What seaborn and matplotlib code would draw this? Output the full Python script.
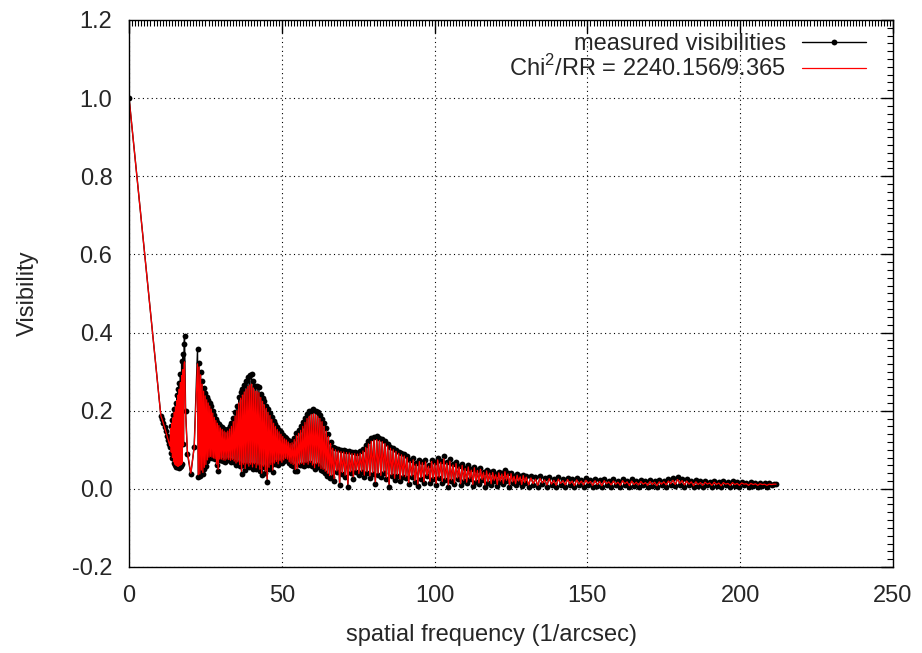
import matplotlib
matplotlib.use("Agg")
import matplotlib.pyplot as plt
from matplotlib.ticker import MultipleLocator, FormatStrFormatter
import numpy as np
import pandas as pd
import seaborn as sns

# values, segment by segment
freq_intro = [0.0, 10.4, 10.8, 11.2, 11.6, 12.0, 12.4, 12.8, 13.2]
vis_intro = [1.000, 0.187, 0.178, 0.168, 0.158, 0.147, 0.136, 0.125, 0.114]
model_intro = [1.000, 0.187, 0.178, 0.168, 0.158, 0.147, 0.136, 0.125, 0.114]

freq_peak1 = [13.4, 13.6, 13.8, 14.0, 14.2, 14.4, 14.6, 14.8, 15.0, 15.2,
              15.4, 15.6, 15.8, 16.0, 16.2, 16.4, 16.6, 16.8, 17.0, 17.2,
              17.4, 17.6, 17.8, 18.0, 18.15]
vis_peak1 = [0.108, 0.160, 0.092, 0.175, 0.078, 0.190, 0.066, 0.205, 0.060, 0.220,
             0.057, 0.240, 0.055, 0.255, 0.054, 0.272, 0.056, 0.295, 0.058, 0.328,
             0.063, 0.345, 0.114, 0.372, 0.390]
model_peak1 = [0.110, 0.155, 0.094, 0.168, 0.080, 0.182, 0.069, 0.196, 0.063, 0.210,
               0.060, 0.226, 0.058, 0.240, 0.058, 0.255, 0.060, 0.272, 0.062, 0.290,
               0.066, 0.305, 0.110, 0.318, 0.325]

freq_gap = [18.5, 19.1, 20.2, 21.3]
vis_gap = [0.200, 0.090, 0.037, 0.108]
model_gap = [0.190, 0.095, 0.040, 0.105]

freq_decay1 = [22.40, 22.65, 22.90, 23.15, 23.40, 23.65, 23.90, 24.15, 24.40, 24.65,
               24.90, 25.15, 25.40, 25.65, 25.90, 26.15, 26.40, 26.65, 26.90, 27.15,
               27.40, 27.65, 27.90, 28.15, 28.40, 28.65, 28.90, 29.15, 29.40, 29.65,
               29.90]
vis_decay1 = [0.357, 0.030, 0.323, 0.033, 0.300, 0.045, 0.276, 0.037, 0.258, 0.052,
              0.246, 0.059, 0.236, 0.072, 0.228, 0.080, 0.220, 0.082, 0.212, 0.080,
              0.200, 0.078, 0.188, 0.076, 0.180, 0.060, 0.172, 0.046, 0.166, 0.075,
              0.160]
model_decay1 = [0.320, 0.036, 0.312, 0.038, 0.292, 0.048, 0.268, 0.042, 0.250, 0.055,
                0.238, 0.062, 0.228, 0.074, 0.220, 0.081, 0.212, 0.083, 0.204, 0.081,
                0.194, 0.079, 0.183, 0.077, 0.175, 0.063, 0.168, 0.050, 0.162, 0.076,
                0.156]

freq_hump2 = [30.2, 30.5, 30.8, 31.1, 31.4, 31.7, 32.0, 32.3, 32.6, 32.9,
              33.2, 33.5, 33.8, 34.1, 34.4, 34.7, 35.0, 35.3, 35.6, 35.9,
              36.2, 36.5, 36.8, 37.1, 37.4, 37.7, 38.0, 38.3, 38.6, 38.9,
              39.2, 39.5, 39.8, 40.1, 40.4, 40.7, 41.0, 41.3, 41.6, 41.9,
              42.2, 42.5, 42.8, 43.1, 43.4, 43.7, 44.0, 44.3, 44.6, 44.9,
              45.2, 45.5, 45.8, 46.1, 46.4, 46.7, 47.0, 47.3, 47.6, 47.9,
              48.2, 48.5, 48.8, 49.1, 49.4, 49.7, 50.0, 50.3, 50.6, 50.9,
              51.2, 51.5, 51.8, 52.1, 52.4, 52.7, 53.0]
vis_hump2 = [0.074, 0.158, 0.072, 0.153, 0.070, 0.150, 0.074, 0.154, 0.073, 0.160,
             0.070, 0.168, 0.072, 0.182, 0.068, 0.196, 0.062, 0.212, 0.066, 0.236,
             0.058, 0.248, 0.037, 0.256, 0.060, 0.266, 0.048, 0.276, 0.062, 0.286,
             0.055, 0.291, 0.060, 0.293, 0.052, 0.276, 0.062, 0.264, 0.050, 0.262,
             0.058, 0.260, 0.045, 0.244, 0.035, 0.232, 0.055, 0.224, 0.040, 0.213,
             0.018, 0.204, 0.052, 0.194, 0.060, 0.184, 0.043, 0.173, 0.064, 0.165,
             0.068, 0.158, 0.060, 0.151, 0.070, 0.145, 0.066, 0.138, 0.072, 0.132,
             0.076, 0.130, 0.074, 0.124, 0.066, 0.120, 0.062]
model_hump2 = [0.076, 0.152, 0.074, 0.148, 0.073, 0.145, 0.076, 0.148, 0.075, 0.153,
               0.073, 0.160, 0.075, 0.172, 0.071, 0.186, 0.066, 0.200, 0.069, 0.220,
               0.062, 0.232, 0.045, 0.240, 0.063, 0.248, 0.052, 0.255, 0.064, 0.262,
               0.058, 0.266, 0.063, 0.268, 0.056, 0.258, 0.064, 0.250, 0.054, 0.250,
               0.061, 0.246, 0.050, 0.234, 0.040, 0.224, 0.058, 0.215, 0.045, 0.206,
               0.025, 0.196, 0.055, 0.188, 0.062, 0.178, 0.048, 0.168, 0.066, 0.160,
               0.070, 0.152, 0.064, 0.146, 0.072, 0.140, 0.068, 0.134, 0.074, 0.128,
               0.078, 0.125, 0.076, 0.120, 0.069, 0.116, 0.065]

freq_hump3 = [53.35, 53.70, 54.05, 54.40, 54.75, 55.10, 55.45, 55.80, 56.15, 56.50,
              56.85, 57.20, 57.55, 57.90, 58.25, 58.60, 58.95, 59.30, 59.65, 60.00,
              60.35, 60.70, 61.05, 61.40, 61.75, 62.10, 62.45, 62.80, 63.15, 63.50,
              63.85, 64.20, 64.55, 64.90, 65.25, 65.60, 65.95, 66.30]
vis_hump3 = [0.122, 0.058, 0.130, 0.046, 0.142, 0.046, 0.150, 0.060, 0.160, 0.062,
             0.172, 0.058, 0.182, 0.064, 0.192, 0.060, 0.198, 0.066, 0.200, 0.058,
             0.204, 0.050, 0.198, 0.062, 0.196, 0.055, 0.188, 0.048, 0.180, 0.046,
             0.168, 0.040, 0.156, 0.034, 0.140, 0.029, 0.120, 0.030]
model_hump3 = [0.118, 0.062, 0.126, 0.050, 0.136, 0.052, 0.142, 0.063, 0.150, 0.065,
               0.160, 0.062, 0.170, 0.067, 0.180, 0.063, 0.186, 0.068, 0.190, 0.061,
               0.192, 0.054, 0.190, 0.064, 0.186, 0.058, 0.180, 0.052, 0.172, 0.050,
               0.160, 0.045, 0.148, 0.040, 0.134, 0.034, 0.116, 0.035]

freq_hump4 = [66.65, 67.10, 67.55, 68.00, 68.45, 68.90, 69.35, 69.80, 70.25, 70.70,
              71.15, 71.60, 72.05, 72.50, 72.95, 73.40, 73.85, 74.30, 74.75, 75.20,
              75.65, 76.10, 76.55, 77.00, 77.45, 77.90, 78.35, 78.80, 79.25, 79.70,
              80.15, 80.60, 81.05, 81.50, 81.95, 82.40, 82.85, 83.30, 83.75, 84.20,
              84.65, 85.10, 85.55, 86.00, 86.45, 86.90, 87.35, 87.80, 88.25, 88.70,
              89.15, 89.60, 90.05]
vis_hump4 = [0.108, 0.020, 0.104, 0.042, 0.101, 0.009, 0.100, 0.038, 0.099, 0.030,
             0.098, 0.006, 0.097, 0.040, 0.095, 0.026, 0.094, 0.044, 0.093, 0.035,
             0.096, 0.042, 0.102, 0.030, 0.112, 0.040, 0.122, 0.028, 0.130, 0.038,
             0.133, 0.012, 0.134, 0.036, 0.131, 0.030, 0.128, 0.040, 0.122, 0.025,
             0.115, 0.006, 0.108, 0.032, 0.104, 0.022, 0.100, 0.034, 0.095, 0.020,
             0.091, 0.030, 0.088]
model_hump4 = [0.104, 0.026, 0.100, 0.046, 0.097, 0.016, 0.095, 0.042, 0.094, 0.035,
               0.093, 0.012, 0.092, 0.044, 0.090, 0.031, 0.090, 0.047, 0.089, 0.039,
               0.091, 0.045, 0.097, 0.035, 0.106, 0.044, 0.115, 0.033, 0.122, 0.042,
               0.125, 0.018, 0.126, 0.040, 0.124, 0.034, 0.121, 0.043, 0.116, 0.030,
               0.110, 0.012, 0.104, 0.036, 0.100, 0.027, 0.096, 0.037, 0.091, 0.025,
               0.087, 0.033, 0.084]

freq_decay2 = [90.5, 91.0, 91.5, 92.0, 92.5, 93.0, 93.5, 94.0, 94.5, 95.0,
               95.5, 96.0, 96.5, 97.0, 97.5, 98.0, 98.5, 99.0, 99.5, 100.0,
               100.5, 101.0, 101.5, 102.0, 102.5, 103.0, 103.5, 104.0, 104.5, 105.0,
               105.5, 106.0, 106.5, 107.0, 107.5, 108.0, 108.5, 109.0, 109.5, 110.0,
               110.5, 111.0, 111.5, 112.0, 112.5, 113.0, 113.5, 114.0, 114.5, 115.0,
               115.5, 116.0, 116.5, 117.0, 117.5, 118.0, 118.5, 119.0, 119.5, 120.0,
               120.5, 121.0, 121.5, 122.0, 122.5, 123.0, 123.5, 124.0, 124.5, 125.0,
               125.5, 126.0, 126.5, 127.0, 127.5, 128.0, 128.5, 129.0, 129.5, 130.0]
vis_decay2 = [0.028, 0.084, 0.012, 0.074, 0.030, 0.078, 0.018, 0.066, 0.008, 0.074,
              0.026, 0.070, 0.014, 0.073, 0.032, 0.060, 0.016, 0.074, 0.024, 0.068,
              0.010, 0.079, 0.028, 0.072, 0.016, 0.083, 0.022, 0.070, 0.006, 0.076,
              0.020, 0.064, 0.012, 0.069, 0.026, 0.058, 0.010, 0.063, 0.020, 0.054,
              0.014, 0.060, 0.024, 0.050, 0.008, 0.057, 0.018, 0.049, 0.012, 0.053,
              0.022, 0.044, 0.006, 0.049, 0.016, 0.042, 0.010, 0.045, 0.020, 0.038,
              0.008, 0.044, 0.018, 0.040, 0.012, 0.047, 0.020, 0.040, 0.006, 0.041,
              0.016, 0.034, 0.010, 0.038, 0.018, 0.033, 0.008, 0.036, 0.014, 0.032]
model_decay2 = [0.031, 0.080, 0.016, 0.070, 0.033, 0.074, 0.021, 0.063, 0.012, 0.070,
                0.029, 0.067, 0.018, 0.069, 0.034, 0.058, 0.019, 0.070, 0.027, 0.065,
                0.014, 0.074, 0.030, 0.068, 0.019, 0.077, 0.025, 0.066, 0.010, 0.071,
                0.023, 0.061, 0.015, 0.065, 0.028, 0.056, 0.013, 0.060, 0.022, 0.052,
                0.017, 0.056, 0.026, 0.048, 0.011, 0.054, 0.020, 0.047, 0.015, 0.050,
                0.024, 0.042, 0.010, 0.046, 0.018, 0.040, 0.013, 0.042, 0.022, 0.036,
                0.011, 0.041, 0.020, 0.038, 0.014, 0.044, 0.022, 0.038, 0.010, 0.039,
                0.018, 0.032, 0.013, 0.035, 0.020, 0.031, 0.011, 0.034, 0.016, 0.030]

freq_tail = [130.75, 131.50, 132.25, 133.00, 133.75, 134.50, 135.25, 136.00, 136.75, 137.50,
             138.25, 139.00, 139.75, 140.50, 141.25, 142.00, 142.75, 143.50, 144.25, 145.00,
             145.75, 146.50, 147.25, 148.00, 148.75, 149.50, 150.25, 151.00, 151.75, 152.50,
             153.25, 154.00, 154.75, 155.50, 156.25, 157.00, 157.75, 158.50, 159.25, 160.00,
             160.75, 161.50, 162.25, 163.00, 163.75, 164.50, 165.25, 166.00, 166.75, 167.50,
             168.25, 169.00, 169.75, 170.50, 171.25, 172.00, 172.75, 173.50, 174.25, 175.00,
             175.75, 176.50, 177.25, 178.00, 178.75, 179.50, 180.25, 181.00, 181.75, 182.50,
             183.25, 184.00, 184.75, 185.50, 186.25, 187.00, 187.75, 188.50, 189.25, 190.00,
             190.75, 191.50, 192.25, 193.00, 193.75, 194.50, 195.25, 196.00, 196.75, 197.50,
             198.25, 199.00, 199.75, 200.50, 201.25, 202.00, 202.75, 203.50, 204.25, 205.00,
             205.75, 206.50, 207.25, 208.00, 208.75, 209.50, 210.25, 211.00, 211.75]
vis_tail = [0.006, 0.034, 0.010, 0.030, 0.004, 0.033, 0.012, 0.027, 0.006, 0.031,
            0.009, 0.026, 0.004, 0.030, 0.011, 0.025, 0.006, 0.029, 0.010, 0.024,
            0.004, 0.028, 0.009, 0.023, 0.006, 0.027, 0.011, 0.022, 0.005, 0.026,
            0.008, 0.022, 0.004, 0.025, 0.010, 0.021, 0.006, 0.024, 0.009, 0.020,
            0.005, 0.025, 0.010, 0.021, 0.004, 0.024, 0.008, 0.020, 0.006, 0.023,
            0.009, 0.019, 0.005, 0.023, 0.008, 0.020, 0.004, 0.022, 0.009, 0.021,
            0.006, 0.024, 0.010, 0.027, 0.007, 0.030, 0.011, 0.026, 0.006, 0.024,
            0.009, 0.021, 0.004, 0.022, 0.008, 0.019, 0.005, 0.021, 0.009, 0.018,
            0.005, 0.020, 0.008, 0.018, 0.004, 0.020, 0.009, 0.017, 0.006, 0.019,
            0.008, 0.017, 0.005, 0.018, 0.009, 0.016, 0.006, 0.017, 0.008, 0.015,
            0.005, 0.016, 0.008, 0.014, 0.006, 0.015, 0.009, 0.013, 0.012]
model_tail = [0.010, 0.028, 0.013, 0.025, 0.009, 0.027, 0.015, 0.023, 0.010, 0.026,
              0.012, 0.022, 0.009, 0.025, 0.014, 0.021, 0.010, 0.024, 0.013, 0.020,
              0.008, 0.023, 0.012, 0.020, 0.010, 0.022, 0.014, 0.019, 0.009, 0.021,
              0.011, 0.019, 0.008, 0.021, 0.013, 0.018, 0.010, 0.020, 0.012, 0.017,
              0.009, 0.021, 0.013, 0.018, 0.008, 0.020, 0.011, 0.017, 0.010, 0.019,
              0.012, 0.016, 0.009, 0.019, 0.011, 0.017, 0.008, 0.018, 0.012, 0.018,
              0.010, 0.020, 0.013, 0.022, 0.011, 0.024, 0.014, 0.021, 0.010, 0.020,
              0.012, 0.018, 0.008, 0.018, 0.011, 0.016, 0.009, 0.017, 0.012, 0.015,
              0.009, 0.017, 0.011, 0.015, 0.008, 0.016, 0.012, 0.014, 0.009, 0.016,
              0.011, 0.014, 0.009, 0.015, 0.012, 0.013, 0.009, 0.014, 0.011, 0.013,
              0.009, 0.013, 0.011, 0.012, 0.009, 0.012, 0.011, 0.012, 0.012]

x_ticks = [0, 50, 100, 150, 200, 250]
y_ticks = [-0.2, 0.0, 0.2, 0.4, 0.6, 0.8, 1.0, 1.2]

data_label = "measured visibilities"
model_label = r"Chi$^{\mathregular{2}}$/RR = 2240.156/9.365"


def build_frame() -> pd.DataFrame:
    freq = np.concatenate([freq_intro, freq_peak1, freq_gap, freq_decay1, freq_hump2,
                           freq_hump3, freq_hump4, freq_decay2, freq_tail])
    vis = np.concatenate([vis_intro, vis_peak1, vis_gap, vis_decay1, vis_hump2,
                          vis_hump3, vis_hump4, vis_decay2, vis_tail])
    model = np.concatenate([model_intro, model_peak1, model_gap, model_decay1, model_hump2,
                            model_hump3, model_hump4, model_decay2, model_tail])
    return pd.DataFrame({"freq": freq, "vis": vis, "model": model})


def main():
    df = build_frame()

    sns.set_style("white")
    plt.rcParams["font.family"] = ["Liberation Sans", "DejaVu Sans"]
    plt.rcParams["axes.unicode_minus"] = False

    fig, ax = plt.subplots(figsize=(9.22, 6.53), dpi=100)
    fig.subplots_adjust(left=0.140, right=0.9685, bottom=0.1317, top=0.9694)

    sns.lineplot(data=df, x="freq", y="vis", sort=False, estimator=None,
                 color="black", linewidth=1.0, marker="o", markersize=4.2,
                 markeredgewidth=0, label=data_label, ax=ax)
    sns.lineplot(data=df, x="freq", y="model", sort=False, estimator=None,
                 color="red", linewidth=0.9, label=model_label, ax=ax)

    ax.set_xlim(0, 250)
    ax.set_ylim(-0.2, 1.2)
    ax.set_xticks(x_ticks)
    ax.set_yticks(y_ticks)
    ax.yaxis.set_major_formatter(FormatStrFormatter("%.1f"))
    ax.xaxis.set_minor_locator(MultipleLocator(1))
    ax.yaxis.set_minor_locator(MultipleLocator(0.02))
    ax.tick_params(which="both", direction="in", top=True, right=True,
                   color="black", labelsize=17)
    ax.tick_params(axis="x", which="major", pad=13)
    ax.tick_params(axis="y", which="major", pad=12)
    ax.tick_params(which="major", length=9, width=1)
    ax.tick_params(which="minor", length=4.5, width=0.8)
    ax.grid(True, which="major", linestyle=(0, (1, 3)), color="black", linewidth=0.8)
    for sp in ax.spines.values():
        sp.set_color("black")
        sp.set_linewidth(1.0)

    ax.set_xlabel("spatial frequency (1/arcsec)", fontsize=17, labelpad=12)
    ax.xaxis.set_label_coords(0.474, -0.105)
    ax.set_ylabel("Visibility", fontsize=17, labelpad=24)

    ax.legend(loc="upper right", bbox_to_anchor=(0.971, 0.985), markerfirst=False,
              frameon=False, fontsize=17, handlelength=2.7, handletextpad=0.7,
              labelspacing=0.0, borderpad=0.2, borderaxespad=0.0)

    fig.savefig("out.png", dpi=100)
    plt.close(fig)


if __name__ == "__main__":
    main()
